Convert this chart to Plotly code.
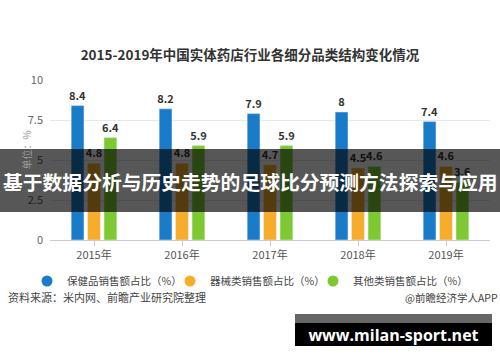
import plotly.graph_objects as go

years = ["2015年", "2016年", "2017年", "2018年", "2019年"]
health = [8.4, 8.2, 7.9, 8, 7.4]
device = [4.8, 4.8, 4.7, 4.5, 4.6]
other = [6.4, 5.9, 5.9, 4.6, 3.6]
names = ["保健品销售额占比（%）", "器械类销售额占比（%）", "其他类销售额占比（%）"]
colors = ["#1a7bc9", "#f5ad2b", "#7ec932"]
yticks = [0, 2.5, 5, 7.5, 10]

FONT = "Noto Sans CJK SC"
W_PLOT = 440.0
H_PLOT = 160.0
def px_x(p):
    return (p - 50) / W_PLOT
def px_y(p):
    return (240 - p) / H_PLOT

fig = go.Figure()
for vals, nm, c in zip([health, device, other], names, colors):
    fig.add_trace(go.Bar(
        x=years, y=vals, name=nm, marker_color=c, showlegend=False,
        text=[f"{v:g}" for v in vals], textposition="outside", cliponaxis=False,
        constraintext="none",
        textfont=dict(family=FONT, size=11, color="#333333", weight="bold"),
    ))

legend_ids = ["legend", "legend2", "legend3"]
legend_starts = [27, 170, 313]
legend_layout = {}
for nm, c, lid, xs in zip(names, colors, legend_ids, legend_starts):
    fig.add_trace(go.Scatter(
        x=[None], y=[None], mode="markers", name=nm, legend=lid,
        marker=dict(symbol="circle", size=11, color=c),
    ))
    legend_layout[lid] = dict(orientation="h", x=px_x(xs), xanchor="left", y=px_y(281),
                              yanchor="middle", font=dict(size=10.5, color="#444444"),
                              itemwidth=30, bgcolor="rgba(0,0,0,0)")

fig.update_layout(
    width=500, height=362,
    margin=dict(l=50, r=10, t=80, b=122, autoexpand=False),
    paper_bgcolor="white", plot_bgcolor="white",
    font=dict(family=FONT, color="#555555"),
    barmode="group", bargap=0.44, bargroupgap=0.22,
    title=dict(text="2015-2019年中国实体药店行业各细分品类结构变化情况",
               x=0.5, xanchor="center", y=1 - 55 / 362, yanchor="middle",
               font=dict(family=FONT, size=13.5, color="#333333", weight="bold")),
    xaxis=dict(showline=True, linecolor="#cccccc", linewidth=1,
               ticks="outside", ticklen=5, tickcolor="#cccccc",
               tickfont=dict(size=11, color="#555555"), showgrid=False),
    yaxis=dict(range=[0, 10], tickvals=yticks, ticktext=[f"{t:g}" for t in yticks],
               showgrid=True, gridcolor="#e8e8e8", zeroline=False,
               tickfont=dict(size=11, color="#666666"), ticks="", ticklabelstandoff=6),
    **legend_layout,
)

fig.add_annotation(text="单位：%", xref="paper", yref="paper", x=px_x(16), y=px_y(150),
                   textangle=-90, showarrow=False, font=dict(size=10, color="#999999"))

# banner
fig.add_shape(type="rect", xref="paper", yref="paper", x0=px_x(-5), x1=px_x(505),
              y0=px_y(212), y1=px_y(149), fillcolor="rgba(0,0,0,0.66)", line_width=0, layer="above")
fig.add_annotation(text="基于数据分析与历史走势的足球比分预测方法探索与应用", xref="paper", yref="paper",
                   x=px_x(250), y=px_y(181), showarrow=False,
                   font=dict(family=FONT, size=19.8, color="white", weight="bold"))

fig.add_annotation(text="资料来源：米内网、前瞻产业研究院整理", xref="paper", yref="paper",
                   x=px_x(6), y=px_y(307), xanchor="left", showarrow=False,
                   font=dict(size=11, color="#444444"))
fig.add_annotation(text="@前瞻经济学人APP", xref="paper", yref="paper",
                   x=px_x(500), y=px_y(307), xanchor="right", showarrow=False,
                   font=dict(size=10.5, color="#444444"))

# watermark box
fig.add_annotation(text="", xref="paper", yref="paper", x=px_x(295), y=px_y(314),
                   xanchor="left", yanchor="top", showarrow=False, width=197, height=9,
                   bgcolor="#666666", borderpad=0, borderwidth=0)
fig.add_annotation(text="www.milan-sport.net", xref="paper", yref="paper",
                   x=px_x(295), y=px_y(323), xanchor="left", yanchor="top", showarrow=False,
                   width=197, height=23, bgcolor="#000000", borderpad=0, borderwidth=0,
                   align="center", valign="middle",
                   font=dict(family="Open Sans", size=16, color="white", weight="bold"))

fig.write_html("out.html", post_script="document.body.style.margin='0';",
               config={"displayModeBar": False})
